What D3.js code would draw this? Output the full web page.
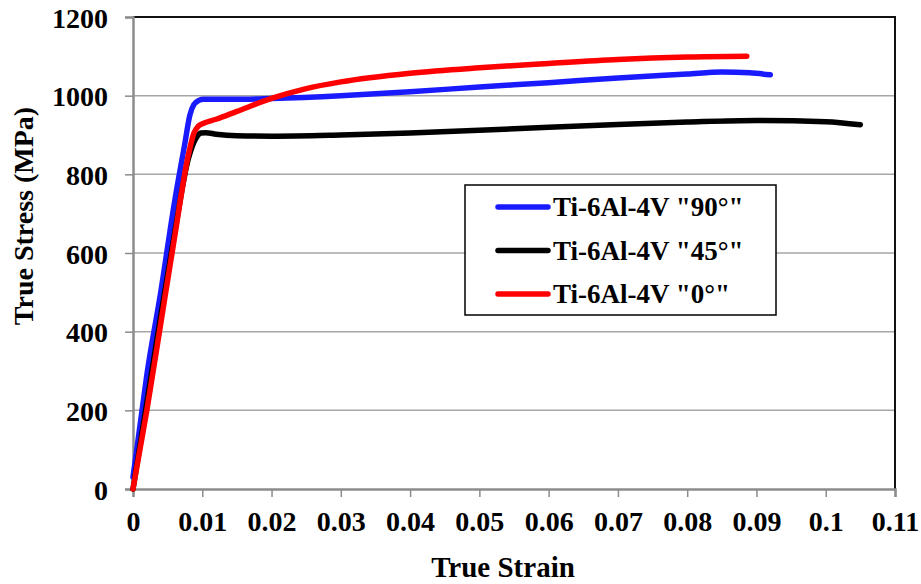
<!DOCTYPE html>
<html>
<head>
<meta charset="utf-8">
<script src="https://cdn.jsdelivr.net/npm/d3@7"></script>
<style>
  body { margin: 0; background: #fff; }
  svg text { font-family: "Liberation Serif", "Times New Roman", serif; font-weight: bold; fill: #000; }
</style>
</head>
<body>
<svg id="chart" width="921" height="584"></svg>
<script>
// strain / stress pairs
var strain90 = [0, 0.001, 0.002, 0.004, 0.006, 0.0075, 0.0082, 0.0088, 0.0095, 0.0102, 0.012, 0.015, 0.02, 0.03, 0.04, 0.05, 0.06, 0.07, 0.08, 0.085, 0.089, 0.092];
var stress90 = [30, 160, 290, 500, 730, 880, 950, 978, 988, 991, 991, 991, 993, 1000, 1010, 1022, 1033, 1045, 1055, 1060, 1058, 1053];

var strain45 = [0, 0.002, 0.004, 0.006, 0.008, 0.0092, 0.0098, 0.0105, 0.012, 0.015, 0.02, 0.03, 0.04, 0.05, 0.06, 0.07, 0.08, 0.09, 0.1, 0.105];
var stress45 = [0, 220, 440, 650, 840, 895, 905, 906, 902, 898, 897, 900, 905, 912, 920, 927, 933, 937, 934, 926];

var strain0 = [0, 0.002, 0.004, 0.006, 0.008, 0.0088, 0.0094, 0.0102, 0.012, 0.015, 0.02, 0.025, 0.03, 0.04, 0.05, 0.06, 0.07, 0.08, 0.0886];
var stress0 = [0, 200, 420, 640, 850, 905, 922, 930, 940, 960, 993, 1018, 1035, 1057, 1071, 1082, 1092, 1098, 1100];

var seriesNames = ['Ti-6Al-4V "90°"', 'Ti-6Al-4V "45°"', 'Ti-6Al-4V "0°"'];
var seriesColors = ["#1a1aff", "#000000", "#ff0000"];
var xTicks = [0, 0.01, 0.02, 0.03, 0.04, 0.05, 0.06, 0.07, 0.08, 0.09, 0.1, 0.11];
var yTicks = [0, 200, 400, 600, 800, 1000, 1200];

var margin = { top: 17, right: 26, bottom: 95, left: 133 },
  width = 921 - margin.left - margin.right,
  height = 584 - margin.top - margin.bottom;

var svg = d3.select("#chart");
var g = svg.append("g")
  .attr("transform", "translate(" + margin.left + "," + margin.top + ")");

var x = d3.scaleLinear().domain([0, 0.11]).range([0, width]);
var y = d3.scaleLinear().domain([0, 1200]).range([height, 0]);

// gridlines
g.append("g").selectAll("line")
  .data(yTicks.slice(1, -1))
  .enter().append("line")
  .attr("x1", 0).attr("x2", width)
  .attr("y1", d => y(d)).attr("y2", d => y(d))
  .attr("stroke", "#a6a6a6").attr("stroke-width", 1.5);

// frame top / right
g.append("path")
  .attr("d", "M0," + y(1200) + "H" + width + "V" + height)
  .attr("fill", "none").attr("stroke", "#111").attr("stroke-width", 2);

var xAxis = g.append("g")
  .attr("transform", "translate(0," + height + ")")
  .call(d3.axisBottom(x).tickValues(xTicks).tickSize(8).tickPadding(14)
    .tickFormat(d => d === 0 ? "0" : String(+d.toFixed(2))));
var yAxis = g.append("g")
  .call(d3.axisLeft(y).tickValues(yTicks).tickSize(8).tickPadding(17)
    .tickFormat(d => String(d)));

[xAxis, yAxis].forEach(function (a) {
  a.select(".domain").attr("stroke", "#8c8c8c").attr("stroke-width", 2.5);
  a.selectAll(".tick line").attr("stroke", "#8c8c8c").attr("stroke-width", 1.5);
  a.selectAll("text").style("font-size", "28px")
    .style("font-family", '"Liberation Serif", serif').style("font-weight", "bold");
});
yAxis.selectAll("text").attr("dy", "0.36em");

// curves
var series = [
  { xs: strain90, ys: stress90 },
  { xs: strain45, ys: stress45 },
  { xs: strain0, ys: stress0 }
];
var line = d3.line()
  .x(d => x(d[0])).y(d => y(d[1]))
  .curve(d3.curveMonotoneX);

// draw 90 first, then 45, red on top
[0, 1, 2].forEach(function (i) {
  var pts = series[i].xs.map((v, j) => [v, series[i].ys[j]]);
  g.append("path")
    .datum(pts)
    .attr("fill", "none")
    .attr("stroke", seriesColors[i])
    .attr("stroke-width", 5.5)
    .attr("stroke-linecap", "round")
    .attr("stroke-linejoin", "round")
    .attr("d", line);
});

// legend
var leg = svg.append("g").attr("transform", "translate(465,185)");
leg.append("rect")
  .attr("width", 311).attr("height", 130)
  .attr("fill", "#fff").attr("stroke", "#000").attr("stroke-width", 1.5);
seriesNames.forEach(function (name, i) {
  var yy = 22 + i * 43.5;
  leg.append("line")
    .attr("x1", 33).attr("x2", 83).attr("y1", yy).attr("y2", yy)
    .attr("stroke", seriesColors[i]).attr("stroke-width", 5.5)
    .attr("stroke-linecap", "round");
  leg.append("text")
    .attr("x", 88).attr("y", yy).attr("dy", "0.35em")
    .style("font-size", "27px")
    .text(name);
});

// axis titles
svg.append("text")
  .attr("x", 503).attr("y", 577)
  .attr("text-anchor", "middle")
  .style("font-size", "29px")
  .text("True Strain");
svg.append("text")
  .attr("transform", "translate(33,216) rotate(-90)")
  .attr("text-anchor", "middle")
  .style("font-size", "28px")
  .text("True Stress (MPa)");
</script>
</body>
</html>
